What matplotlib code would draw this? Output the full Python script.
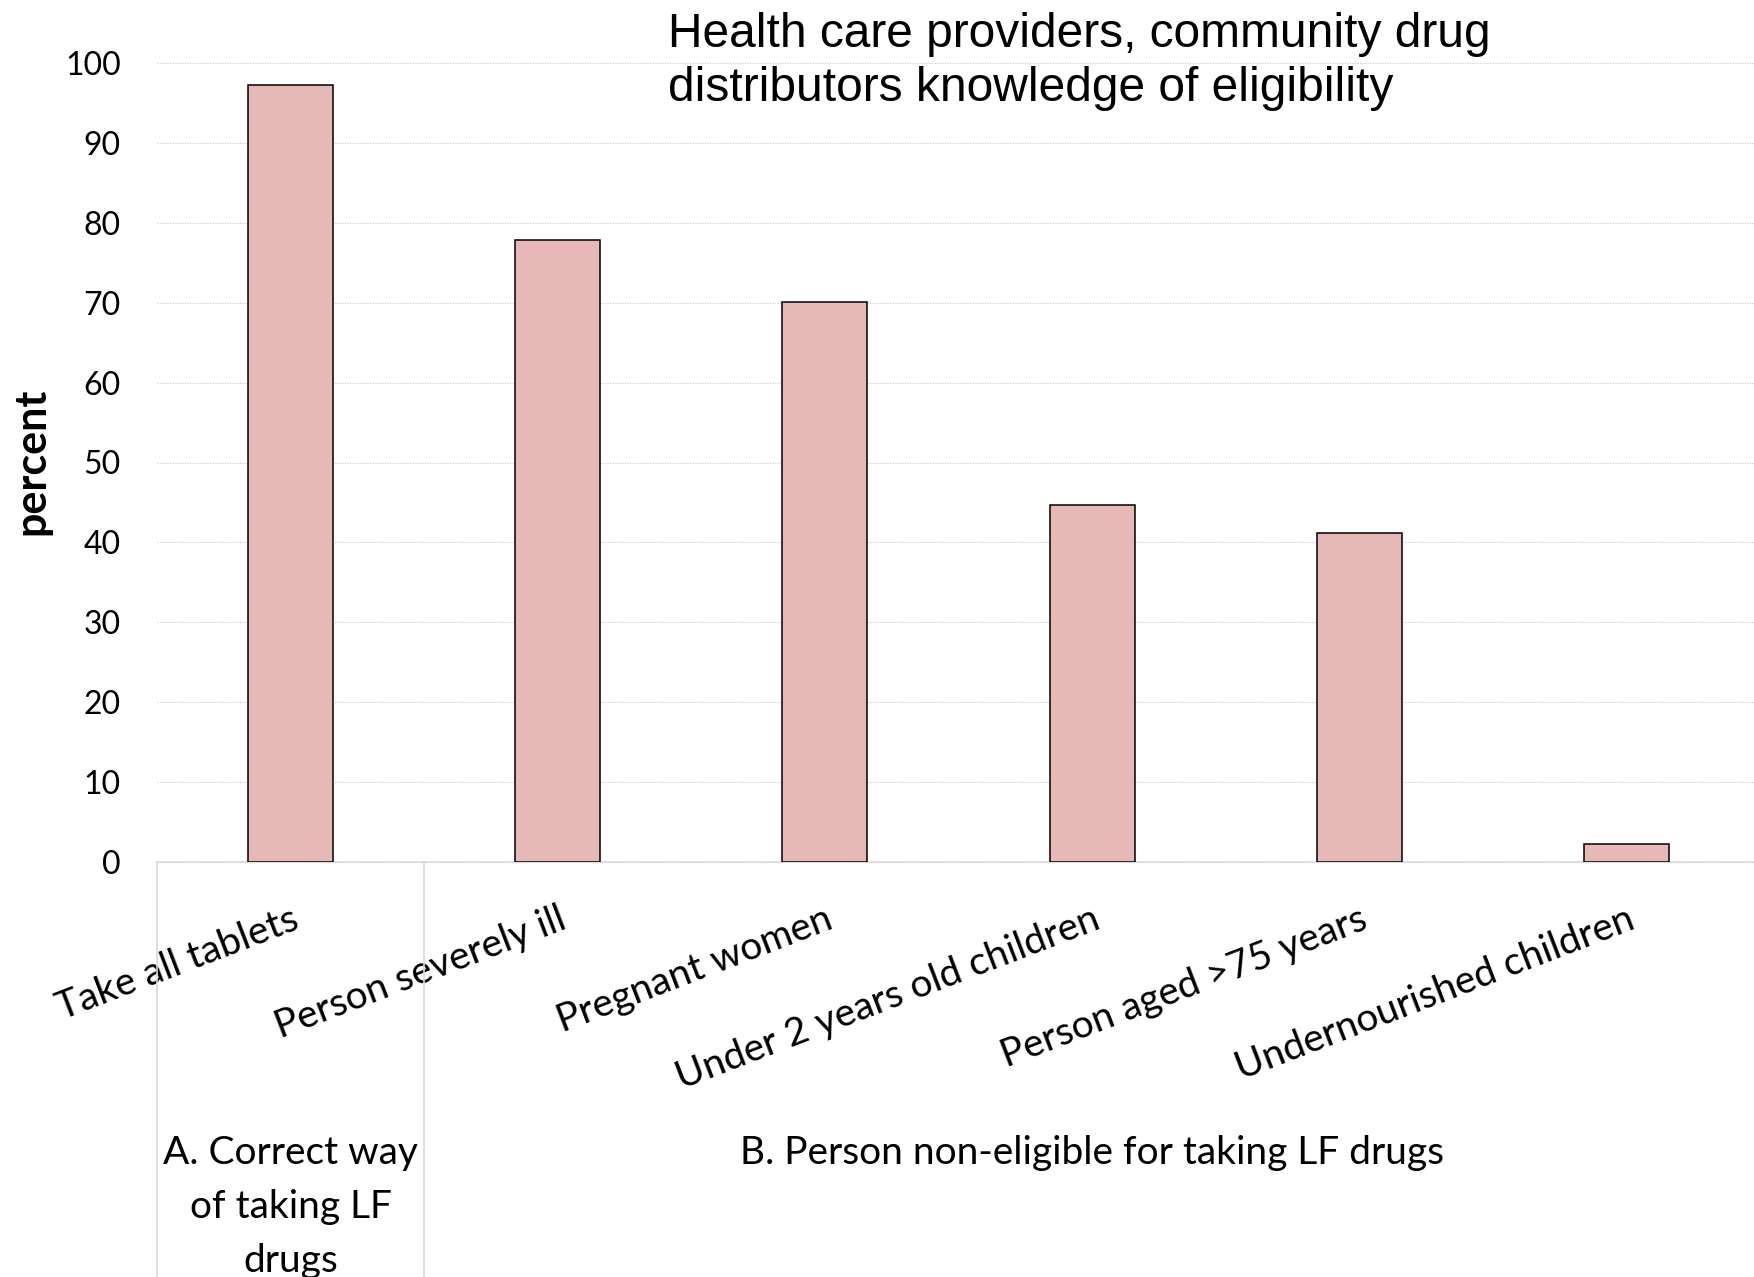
import matplotlib
matplotlib.use("Agg")
import matplotlib.pyplot as plt
import matplotlib.transforms as mtransforms
from matplotlib.lines import Line2D

# données
categories = [
    "Take all tablets",
    "Person severely ill",
    "Pregnant women",
    "Under 2 years old children",
    "Person aged >75 years",
    "Undernourished children",
]
values = [97.2, 77.9, 70.1, 44.7, 41.2, 2.2]
groups = ["A. Correct way\nof taking LF\ndrugs", "B. Person non-eligible for taking LF drugs"]
group_sizes = [1, 5]
yticks = [0, 10, 20, 30, 40, 50, 60, 70, 80, 90, 100]

title = "Health care providers, community drug\ndistributors knowledge of eligibility"

plt.rcParams['font.family'] = ['Lato', 'DejaVu Sans']

fig = plt.figure(figsize=(17.54, 12.77), dpi=100)
ax = fig.add_axes([157 / 1754, 1 - 862 / 1277, 1603 / 1754, 799 / 1277])

x = list(range(len(categories)))
ax.bar(x, values, width=0.318, color="#E6B8B7", edgecolor="black", linewidth=1.1, zorder=3)

ax.set_xlim(-0.5, len(categories) - 0.5)
ax.set_ylim(0, 100)
ax.set_yticks(yticks)
ax.tick_params(axis='y', length=0, pad=26, labelsize=23)
ax.grid(axis='y', linestyle=(0, (1, 1)), color="#d0d0d0", linewidth=0.9, zorder=0)
ax.set_axisbelow(True)
for g in ax.get_ygridlines():
    g.set_clip_on(False)

for s in ["left", "right", "top"]:
    ax.spines[s].set_visible(False)
ax.spines["bottom"].set_color("#d9d9d9")
ax.spines["bottom"].set_linewidth(1.2)

ax.set_xticks(x)
ax.set_xticklabels(categories, rotation=21, ha='right', va='top', rotation_mode='anchor', fontsize=28)
ax.tick_params(axis='x', length=0, pad=28)

fig.text(31 / 1754, 1 - 461 / 1277, "percent", rotation=90, ha='center', va='center',
         fontsize=31, fontweight='bold')

# séparateurs et libellés des groupes
trans = mtransforms.blended_transform_factory(ax.transData, ax.transAxes)
start = 0
bounds = [-0.5]
for name, size in zip(groups, group_sizes):
    center = start + size / 2 - 0.5
    ax.text(center, -0.342, name, transform=trans, ha='center', va='top',
            fontsize=28, linespacing=1.62, clip_on=False)
    start += size
    bounds.append(start - 0.5)
for b in bounds[:-1]:
    ax.add_line(Line2D([b, b], [0, -0.53], transform=trans, color="#d9d9d9",
                       linewidth=1.2, clip_on=False))

fig.text(668 / 1754, 1 - 12 / 1277, title, ha='left', va='top', fontsize=34.5,
         family='Liberation Sans', linespacing=1.25)

fig.savefig("out.png", dpi=100)
